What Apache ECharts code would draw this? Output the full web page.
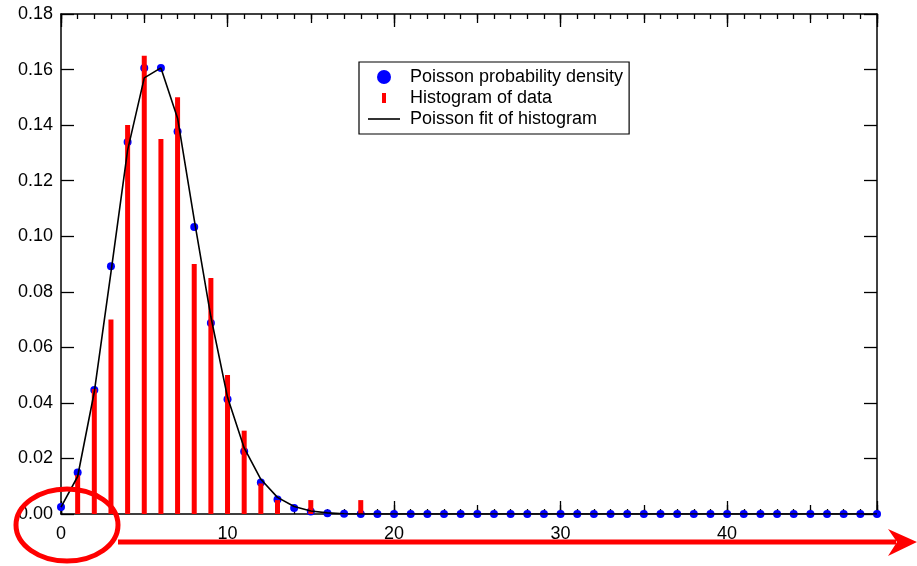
<!DOCTYPE html>
<html>
<head>
  <meta charset="utf-8">
  <title>poisson</title>
  <script src="https://cdn.jsdelivr.net/npm/echarts@6/dist/echarts.min.js"></script>
  <style>
    html, body { margin: 0; padding: 0; background: #fff; }
    #chart { width: 917px; height: 566px; }
  </style>
</head>
<body>
  <div id="chart"></div>
  <script>
    // x = 0..49
    var ks = [];
    for (var i = 0; i < 50; i++) ks.push(i);

    // blue dots
    var densY = [0.0025, 0.0149, 0.0446, 0.0892, 0.1339, 0.1606, 0.1606, 0.1377, 0.1033, 0.0688,
                 0.0413, 0.0225, 0.0113, 0.0052, 0.0022, 0.0009, 0.0003, 0.0001, 0, 0,
                 0, 0, 0, 0, 0, 0, 0, 0, 0, 0,
                 0, 0, 0, 0, 0, 0, 0, 0, 0, 0,
                 0, 0, 0, 0, 0, 0, 0, 0, 0, 0];

    // red histogram bins
    var histX = [1, 2, 3, 4, 5, 6, 7, 8, 9, 10, 11, 12, 13, 15, 18];
    var histY = [0.014, 0.045, 0.070, 0.140, 0.165, 0.135, 0.150, 0.090, 0.085, 0.050, 0.030, 0.011, 0.005, 0.005, 0.005];

    // black fit line
    var fitY = [0.0025, 0.0135, 0.044, 0.087, 0.131, 0.157, 0.1606, 0.1425, 0.106, 0.071,
                0.042, 0.0238, 0.0125, 0.006, 0.0027, 0.0011, 0.0004, 0.0001, 0, 0,
                0, 0, 0, 0, 0, 0, 0, 0, 0, 0,
                0, 0, 0, 0, 0, 0, 0, 0, 0, 0,
                0, 0, 0, 0, 0, 0, 0, 0, 0, 0];

    var yTicks = [0, 0.02, 0.04, 0.06, 0.08, 0.10, 0.12, 0.14, 0.16, 0.18];

    function pairs(xs, ys) {
      return xs.map(function (x, i) { return [x, ys[i]]; });
    }

    var font = "'Liberation Sans', Arial, sans-serif";
    var black = '#000';

    // bottom/top axes: 1, 5 and 10 steps stacked to get three tick lengths
    function xAx(pos, interval, len, main) {
      return {
        type: 'value', position: pos, min: 0, max: 49, interval: interval,
        axisLine: { show: main, onZero: false, lineStyle: { color: black, width: 1.5 } },
        axisTick: { show: true, inside: true, length: len, lineStyle: { color: black, width: 1.3 } },
        axisLabel: {
          show: main && pos === 'bottom', color: black, fontSize: 18, fontFamily: font, margin: 11,
          formatter: function (v) { return v % 10 === 0 ? String(v) : ''; }
        },
        splitLine: { show: false }
      };
    }

    function yAx(pos) {
      return {
        type: 'value', position: pos, min: yTicks[0], max: yTicks[yTicks.length - 1], interval: 0.02,
        axisLine: { show: true, onZero: false, lineStyle: { color: black, width: 1.5 } },
        axisTick: { show: true, inside: true, length: 13, lineStyle: { color: black, width: 1.3 } },
        axisLabel: {
          show: pos === 'left', color: black, fontSize: 18, fontFamily: font, margin: 8,
          formatter: function (v) { return v.toFixed(2); }
        },
        splitLine: { show: false }
      };
    }

    var option = {
      animation: false,
      backgroundColor: '#fff',
      grid: { left: 61, top: 14, width: 816, height: 500 },
      xAxis: [
        xAx('bottom', 10, 13, true),
        xAx('bottom', 5, 9, false),
        xAx('bottom', 1, 5, false),
        xAx('top', 10, 13, true),
        xAx('top', 5, 9, false),
        xAx('top', 1, 5, false)
      ],
      yAxis: [yAx('left'), yAx('right')],
      legend: {
        orient: 'vertical', left: 359, top: 62,
        padding: [6, 6, 6, 9], itemGap: 3,
        itemWidth: 32, itemHeight: 14,
        borderColor: black, borderWidth: 1.2,
        selectedMode: false,
        textStyle: { color: black, fontSize: 18, fontFamily: font, padding: [0, 0, 0, 5] },
        data: [
          { name: 'Poisson probability density', icon: 'circle' },
          { name: 'Histogram of data', icon: 'path://M0,0M32,14M14,2h4v10h-4z' },
          { name: 'Poisson fit of histogram', icon: 'path://M0,0M32,14M0,6.2h32v1.6h-32z' }
        ]
      },
      series: [
        {
          name: 'Poisson probability density', type: 'scatter',
          data: pairs(ks, densY), symbolSize: 8,
          itemStyle: { color: '#0000ff', opacity: 1 }, z: 2
        },
        {
          name: 'Histogram of data', type: 'bar',
          data: pairs(histX, histY), barWidth: 5,
          itemStyle: { color: '#ff0000' }, z: 3
        },
        {
          name: 'Poisson fit of histogram', type: 'line',
          data: pairs(ks, fitY), symbol: 'none',
          lineStyle: { color: black, width: 1.6 }, itemStyle: { color: black }, z: 4
        }
      ],
      // red annotation: ring round the origin and arrow along the x axis
      graphic: [
        {
          type: 'ellipse', shape: { cx: 67, cy: 525, rx: 51, ry: 36 },
          style: { fill: 'none', stroke: '#ff0000', lineWidth: 5 }, z: 10
        },
        {
          type: 'line', shape: { x1: 118, y1: 542, x2: 896, y2: 542 },
          style: { stroke: '#ff0000', lineWidth: 5 }, z: 10
        },
        {
          type: 'polygon', shape: { points: [[888, 529], [917, 542], [888, 556], [897, 542]] },
          style: { fill: '#ff0000' }, z: 10
        }
      ]
    };

    var chart = echarts.init(document.getElementById('chart'));
    chart.setOption(option);
  </script>
</body>
</html>
